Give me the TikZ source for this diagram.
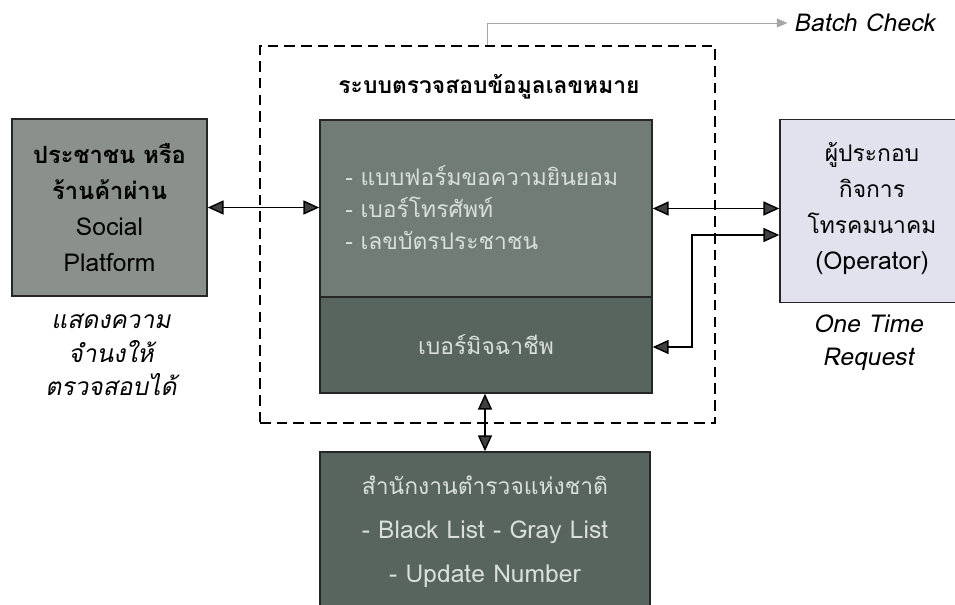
\documentclass[tikz,border=0pt]{standalone}
\usepackage{fontspec}
\setmainfont{Loma}[Script=Thai, ItalicFont=Loma, ItalicFeatures={FakeSlant=0.2}]
\usepackage[rgb]{xcolor}
\definecolor{userfill}{HTML}{8A918D}
\definecolor{datafill}{HTML}{717C76}
\definecolor{fraudfill}{HTML}{58645E}
\definecolor{oprfill}{HTML}{E2E2EF}
\definecolor{pale}{HTML}{DADFDB}
\usepackage{tikz}
\usetikzlibrary{arrows.meta}

\begin{document}
\begin{tikzpicture}[box/.style={rectangle, draw=black!85, line width=0.9pt, inner sep=0pt, font=\fontsize{14}{20.5}\selectfont, align=center},
	both/.style={{Triangle[length=9pt,width=8pt,fill=black!75]}-{Triangle[length=9pt,width=8pt,fill=black!75]}, line width=0.8pt},
	note/.style={font=\fontsize{14}{19}\selectfont\itshape, align=center}]
	\useasboundingbox (0,0) rectangle (19.1,12.08);
%	system frame
	\node[rectangle, draw, dash pattern=on 6pt off 3.5pt, line width=1.4pt, minimum width=9.1cm, minimum height=7.54cm] at (9.75,7.39) (sys) {};
	\node[font=\fontsize{13}{17}\selectfont\bfseries] at (9.78,10.34) (title) {ระบบตรวจสอบข้อมูลเลขหมาย};
	\node[box, fill=userfill, minimum width=3.9cm, minimum height=3.54cm] at (2.19,7.93) (user) {\fontsize{13.5}{20.5}\selectfont\textbf{ประชาชน หรือ}\\\fontsize{13.5}{20.5}\selectfont\textbf{ร้านค้าผ่าน}\\Social\\Platform};
	\node[box, fill=datafill, minimum width=6.64cm, minimum height=3.54cm] at (9.72,7.91) (data) {};
	\node[box, fill=fraudfill, minimum width=6.64cm, minimum height=1.92cm, text=pale, font=\fontsize{13}{17}\selectfont] at (9.72,5.18) (fraud) {เบอร์มิจฉาชีพ};
	\node[box, fill=oprfill, minimum width=3.7cm, minimum height=3.66cm] at (17.45,7.86) (opr) {};
	\node[box, fill=fraudfill, minimum width=6.6cm, minimum height=3.2cm, text=pale, font=\fontsize{14}{25}\selectfont] at (9.7,1.44) (police) {\fontsize{13}{25}\selectfont สำนักงานตำรวจแห่งชาติ\\- Black List - Gray List\\- Update Number};
%	texts inside and below
	\node[anchor=west, align=left, inner sep=0pt, text=pale, font=\fontsize{13}{18}\selectfont] at (6.9,7.93) (items) {- แบบฟอร์มขอความยินยอม\\- เบอร์โทรศัพท์\\- เลขบัตรประชาชน};
	\node[align=center, font=\fontsize{13}{20.5}\selectfont] at (17.44,7.9) (oprtext) {ผู้ประกอบ\\กิจการ\\โทรคมนาคม\\\fontsize{14}{20.5}\selectfont(Operator)};
	\node[note] at (2.22,4.98) (want) {แสดงความ\\จำนงให้\\ตรวจสอบได้};
	\node[note] at (17.36,5.22) (once) {One Time\\Request};
	\node[note, anchor=west] at (15.75,11.62) (batch) {Batch Check};

	\draw[both] (user) -- (data.west |- user);
	\draw[both] (data.east) -- (data.east -| opr.west);
	\coordinate (d2) at (13.84,7.38);
	\coordinate (d3) at (13.84,5.14);
	\draw[both] (fraud.east |- d3) -- (d3) -- (d2) -- (d2 -| opr.west);
	\draw[both] (police.north |- fraud.south) -- (police.north);
	\draw[-{Triangle[length=6pt,width=5pt]}, gray!70, line width=0.5pt] (sys.north) |- (batch.west);
\end{tikzpicture}
\end{document}
